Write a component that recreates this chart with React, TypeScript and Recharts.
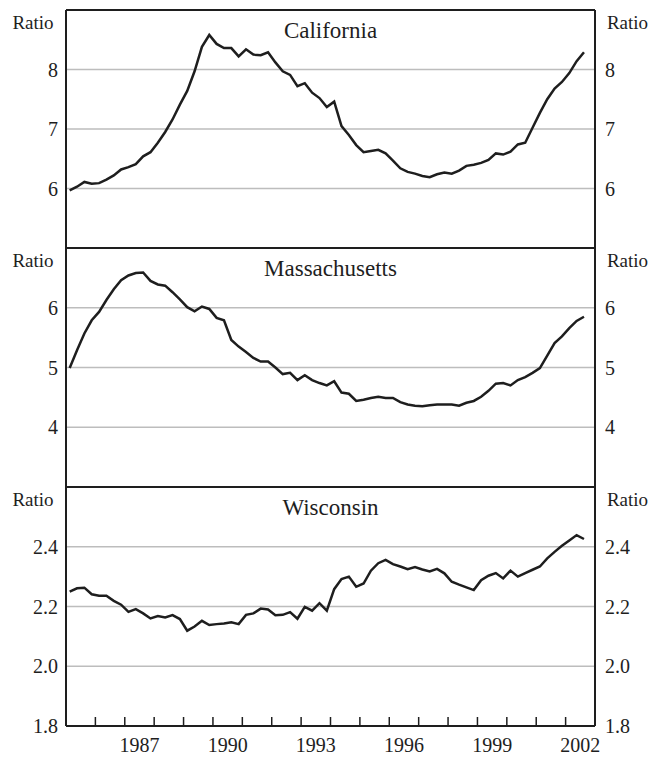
import React from 'react';
import { LineChart, Line, XAxis, YAxis, CartesianGrid, ReferenceLine } from 'recharts';

// quarterly ratios, 1985Q1 - 2002Q3
const START_YEAR = 1985;

const california = [
  5.97, 6.03, 6.11, 6.08, 6.09, 6.15, 6.22, 6.32, 6.36, 6.41,
  6.54, 6.61, 6.77, 6.95, 7.16, 7.41, 7.64, 7.97, 8.38, 8.58,
  8.43, 8.36, 8.36, 8.22, 8.34, 8.25, 8.24, 8.29, 8.12, 7.97,
  7.91, 7.72, 7.77, 7.61, 7.52, 7.37, 7.46, 7.05, 6.9, 6.73,
  6.61, 6.63, 6.65, 6.59, 6.47, 6.34, 6.28, 6.25, 6.21, 6.19,
  6.24, 6.27, 6.25, 6.3, 6.38, 6.4, 6.43, 6.48, 6.59, 6.57,
  6.62, 6.74, 6.77, 7.02, 7.27, 7.5, 7.68, 7.79, 7.94, 8.14, 8.29,
];

const massachusetts = [
  4.99, 5.29, 5.57, 5.79, 5.93, 6.13, 6.31, 6.46, 6.54, 6.58,
  6.59, 6.45, 6.39, 6.37, 6.26, 6.14, 6.01, 5.94, 6.02, 5.98,
  5.83, 5.79, 5.46, 5.35, 5.26, 5.16, 5.1, 5.1, 5.0, 4.89,
  4.91, 4.79, 4.87, 4.79, 4.74, 4.7, 4.77, 4.58, 4.56, 4.44,
  4.46, 4.49, 4.51, 4.49, 4.49, 4.42, 4.38, 4.36, 4.35, 4.37,
  4.38, 4.38, 4.38, 4.36, 4.41, 4.44, 4.51, 4.61, 4.73, 4.74,
  4.7, 4.79, 4.84, 4.91, 4.99, 5.2, 5.41, 5.52, 5.66, 5.78, 5.85,
];

const wisconsin = [
  2.25, 2.261, 2.263, 2.241, 2.236, 2.236, 2.219, 2.206, 2.182, 2.191,
  2.177, 2.16, 2.168, 2.163, 2.171, 2.158, 2.119, 2.133, 2.152, 2.138,
  2.141, 2.143, 2.147, 2.141, 2.172, 2.177, 2.193, 2.19, 2.171, 2.172,
  2.181, 2.159, 2.199, 2.186, 2.211, 2.186, 2.258, 2.292, 2.3, 2.266,
  2.277, 2.32, 2.345, 2.356, 2.342, 2.334, 2.325, 2.332, 2.324, 2.317,
  2.326, 2.311, 2.283, 2.273, 2.264, 2.255, 2.288, 2.303, 2.312, 2.294,
  2.32, 2.3, 2.312, 2.323, 2.334, 2.361, 2.383, 2.403, 2.421, 2.439, 2.426,
];

const yearTicks = [1986, 1987, 1988, 1989, 1990, 1991, 1992, 1993, 1994, 1995, 1996, 1997, 1998, 1999, 2000, 2001, 2002];
const labelYears = [1987, 1990, 1993, 1996, 1999, 2002];

const caTicks = [6, 7, 8];
const maTicks = [4, 5, 6];
const wiTicks = [1.8, 2.0, 2.2, 2.4];

const FONT = "'Liberation Serif', 'Times New Roman', serif";
const INK = '#1e1e1e';
const WIDTH = 654;
const LEFT_W = 66;
const RIGHT_W = 59;
const X_DOMAIN: [number, number] = [1985, 2003];
const YEAR_PX = (WIDTH - LEFT_W - RIGHT_W) / (X_DOMAIN[1] - X_DOMAIN[0]);

const toRows = (values: number[]) =>
  values.map((v, i) => ({ t: START_YEAR + (i + 0.5) / 4, v }));

// year labels sit in the middle of each year, ticks mark the year boundaries
const YearTick = (props: any) => {
  const { x, y, payload } = props;
  if (!labelYears.includes(payload.value)) return <g />;
  return (
    <text x={x + YEAR_PX / 2} y={y} dy="0.71em" textAnchor="middle" fill={INK} fontSize={20}>
      {payload.value}
    </text>
  );
};

interface PanelProps {
  title: string;
  values: number[];
  domain: [number, number];
  ticks: number[];
  top: number;
  plotH: number;
  last?: boolean;
  fmt?: (v: number) => string;
}

const Panel: React.FC<PanelProps> = ({ title, values, domain, ticks, top, plotH, last, fmt }) => {
  const height = 10 + plotH + (last ? 34 : 4);
  const tickStyle = { fill: INK, fontSize: 20 };
  const ratioLabel = { value: 'Ratio', position: 'insideTop' as const, offset: 6, fill: INK, fontSize: 19 };
  return (
    <div style={{ position: 'absolute', left: 0, top: top - 10 }}>
      <LineChart
        width={WIDTH}
        height={height}
        data={toRows(values)}
        margin={{ top: 10, right: 0, bottom: last ? 0 : 4, left: 0 }}
      >
        <CartesianGrid vertical={false} stroke="#bdbdbd" strokeWidth={1.5} />
        <XAxis
          dataKey="t"
          type="number"
          domain={X_DOMAIN}
          ticks={yearTicks}
          interval={0}
          hide={!last}
          height={34}
          tickSize={-9}
          tickMargin={21}
          tickLine={{ stroke: INK, strokeWidth: 1.5 }}
          axisLine={{ stroke: INK, strokeWidth: 2 }}
          tick={<YearTick />}
        />
        <YAxis
          type="number"
          domain={domain}
          ticks={ticks}
          interval={0}
          width={LEFT_W}
          tickLine={false}
          axisLine={{ stroke: INK, strokeWidth: 2 }}
          tick={tickStyle}
          tickFormatter={fmt}
          label={ratioLabel}
        />
        <YAxis
          yAxisId="r"
          type="number"
          orientation="right"
          domain={domain}
          ticks={ticks}
          interval={0}
          width={RIGHT_W}
          tickLine={false}
          tickMargin={4}
          axisLine={{ stroke: INK, strokeWidth: 2 }}
          tick={tickStyle}
          tickFormatter={fmt}
          label={{ ...ratioLabel, dx: 3 }}
        />
        <ReferenceLine
          y={domain[1]}
          stroke={INK}
          strokeWidth={2}
          label={{ value: title, position: 'bottom', offset: 12, fill: INK, fontSize: 23 }}
        />
        {/* same series on the right axis, invisible, so that axis gets its scale */}
        <Line
          yAxisId="r"
          dataKey="v"
          type="linear"
          stroke="none"
          dot={false}
          activeDot={false}
          isAnimationActive={false}
        />
        <Line
          dataKey="v"
          type="linear"
          stroke={INK}
          strokeWidth={2.5}
          dot={false}
          isAnimationActive={false}
        />
      </LineChart>
    </div>
  );
};

export default function App() {
  return (
    <div style={{ position: 'relative', width: WIDTH, height: 760, background: '#fff' }}>
      <style>{`body { margin: 0; } svg text, svg tspan { font-family: ${FONT} !important; }`}</style>
      <Panel title="California" values={california} domain={[5, 9]} ticks={caTicks} top={10} plotH={238} />
      <Panel title="Massachusetts" values={massachusetts} domain={[3, 7]} ticks={maTicks} top={248} plotH={239} />
      <Panel
        title="Wisconsin"
        values={wisconsin}
        domain={[1.8, 2.6]}
        ticks={wiTicks}
        top={487}
        plotH={239}
        last
        fmt={(v) => v.toFixed(1)}
      />
    </div>
  );
}
